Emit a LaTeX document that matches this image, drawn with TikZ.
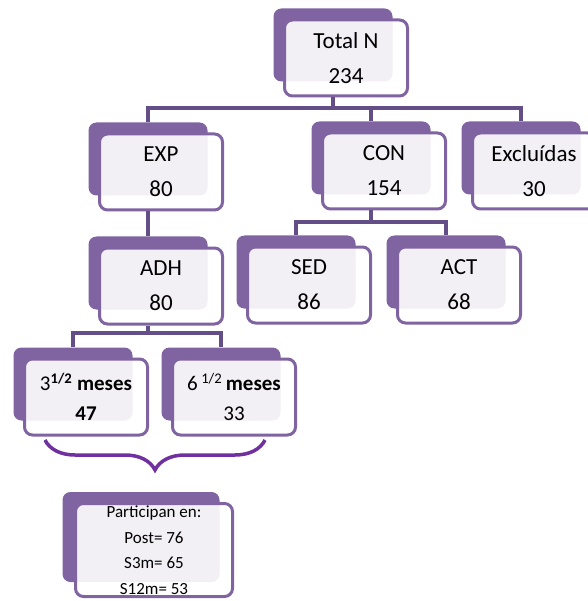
\documentclass[tikz,border=0pt]{standalone}
\usepackage{fontspec}
\setmainfont{Carlito}
\usepackage{xcolor}
\usetikzlibrary{decorations.pathreplacing}
\definecolor{boxc}{HTML}{8064A2}
\definecolor{linec}{HTML}{644E87}
\definecolor{bracec}{HTML}{7030A0}

\begin{document}
\begin{tikzpicture}[
  x=1pt, y=-1pt,
  back/.style={fill=boxc, rounded corners=8pt, minimum width=119pt,
               minimum height=73pt, inner sep=0pt},
  front/.style={draw=boxc, line width=3pt, fill=white, fill opacity=0.9,
                text opacity=1, rounded corners=8pt, minimum width=123pt,
                minimum height=76pt, inner sep=0pt, align=center,
                font=\fontsize{23}{35}\selectfont},
  sub/.style={front, font=\fontsize{21}{30}\selectfont},
  note/.style={front, minimum width=157pt, minimum height=93pt,
               font=\fontsize{17}{25.5}\selectfont},
  conn/.style={draw=linec, line width=3.5pt}
]
  \useasboundingbox (0,0) rectangle (587,601);

  % level 0
  \node[back]  (tot)   at (333,45) {};
  \node[front] (tot-f) at ([shift={(13,13)}]tot) {Total N\\234};

  % level 1
  \node[back]  (exp)   at (148,159) {};
  \node[front] (exp-f) at ([shift={(13,13)}]exp) {EXP\\80};
  \node[back]  (con)   at (371,158) {};
  \node[front] (con-f) at ([shift={(13,13)}]con) {CON\\154};
  \node[back]  (exc)   at (521,158) {};
  \node[front] (exc-f) at ([shift={(13,13)}]exc) {Excluídas\\30};

  % level 2
  \node[back]  (adh)   at (148,273) {};
  \node[front] (adh-f) at ([shift={(13,13)}]adh) {ADH\\80};
  \node[back]  (sed)   at (296,272) {};
  \node[front] (sed-f) at ([shift={(13,13)}]sed) {SED\\86};
  \node[back]  (act)   at (446,272) {};
  \node[front] (act-f) at ([shift={(13,13)}]act) {ACT\\68};

  % level 3
  \node[back] (m3)   at (73,384) {};
  \node[sub]  (m3-f) at ([shift={(13,13)}]m3)
    {3\textsuperscript{\textbf{1/2}} \textbf{meses}\\\textbf{47}};
  \node[back] (m6)   at (221,384) {};
  \node[sub]  (m6-f) at ([shift={(13,13)}]m6)
    {6\,\textsuperscript{1/2}\,\textbf{meses}\\33};

  % participantes
  \node[back, minimum width=157pt, minimum height=90pt] (par) at (141,537) {};
  \node[note] (par-f) at ([shift={(13,13)}]par)
    {Participan en:\\Post= 76\\S3m= 65\\S12m= 53};

  % connectors
  \coordinate (bar1) at (0,108);
  \coordinate (bar2) at (0,222);
  \coordinate (bar3) at (0,333);
  \draw[conn] (tot |- tot-f.south) -- (tot |- bar1);
  \draw[conn] (exp.north) |- (exc |- bar1) -- (exc.north);
  \draw[conn] (con.north) -- (con |- bar1);
  \draw[conn] (exp |- exp-f.south) -- (adh.north);
  \draw[conn] (con |- con-f.south) -- (con |- bar2);
  \draw[conn] (sed.north) |- (act |- bar2) -- (act.north);
  \draw[conn] (adh |- adh-f.south) -- (adh |- bar3);
  \draw[conn] (m3.north) |- (m6 |- bar3) -- (m6.north);

  % brace
  \coordinate (bl) at (45,440);
  \coordinate (br) at (265,440);
  \draw[bracec, line width=3.5pt, decorate,
        decoration={brace, mirror, amplitude=30pt}] (bl) -- (br);
\end{tikzpicture}
\end{document}
